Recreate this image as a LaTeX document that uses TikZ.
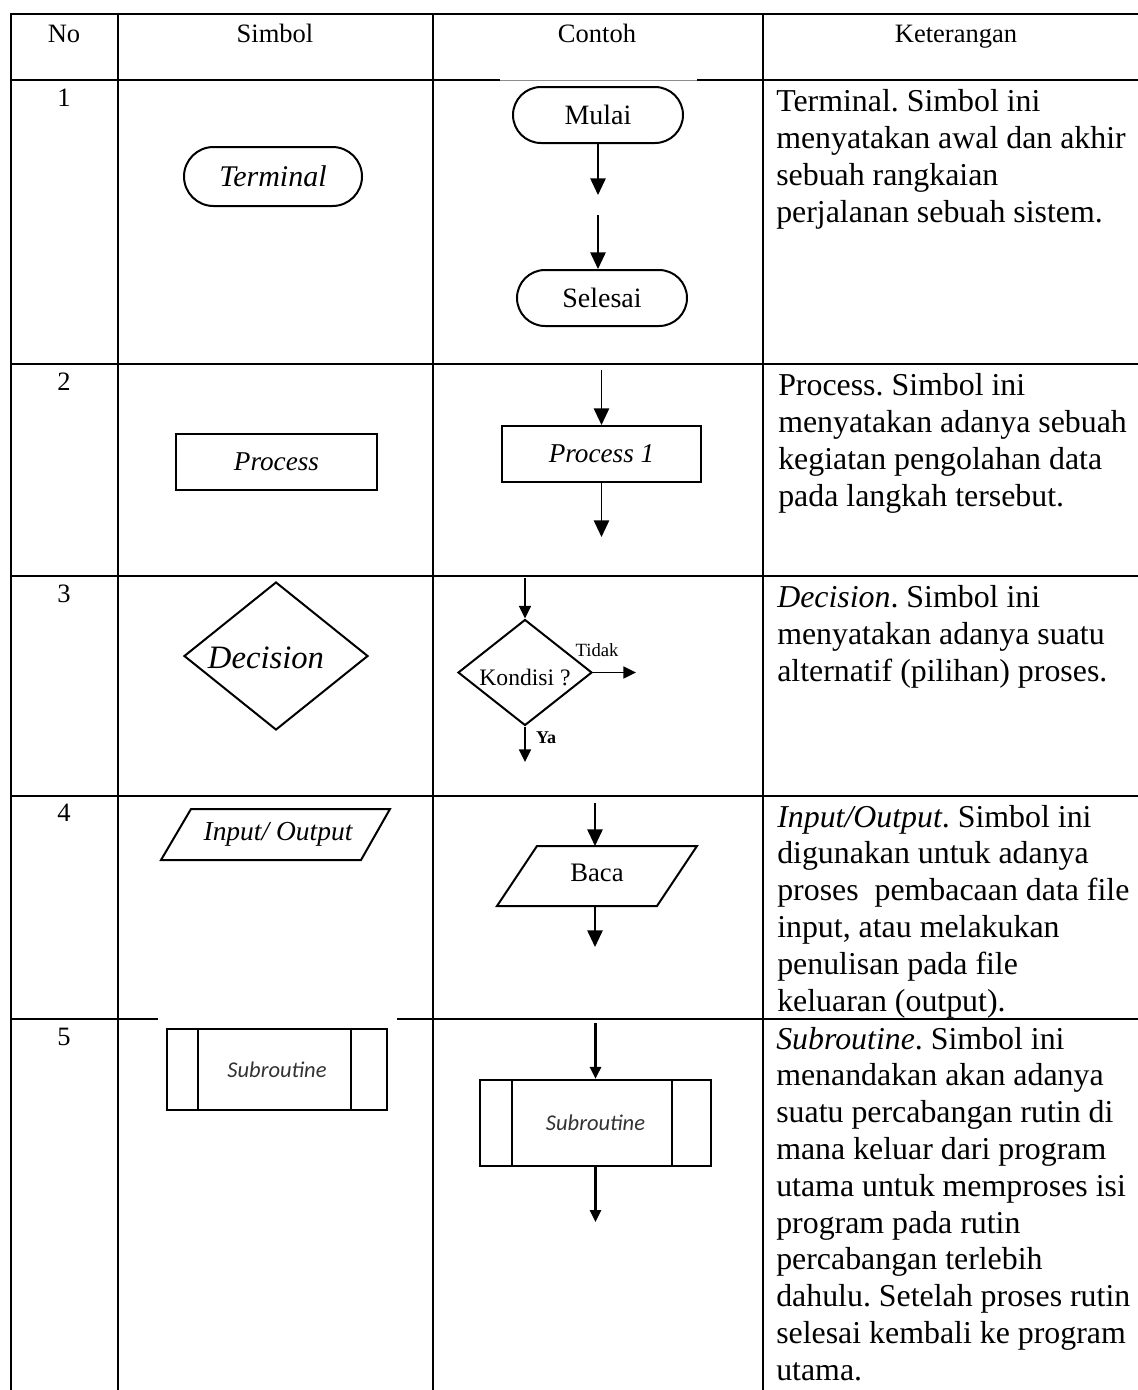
\documentclass[tikz,border=0pt]{standalone}
\usepackage{fontspec}
\setmainfont{Liberation Serif}
\newfontfamily\calibri{Carlito}
\usetikzlibrary{shapes.geometric,shapes.misc,arrows.meta}
\frenchspacing

\begin{document}
\begin{tikzpicture}[x=0.75pt,y=-0.75pt,
  grid/.style={line width=1.8pt},
  thinrule/.style={line width=0.4pt, black!45},
  shp/.style={draw, line width=1.5pt, inner sep=0pt},
  arr/.style={line width=1.3pt, -{Triangle[length=12.5pt,width=11.5pt]}},
  sarr/.style={line width=1.2pt, -{Triangle[length=9.5pt,width=9pt]}},
  tarr/.style={line width=1.6pt, -{Triangle[length=9pt,width=8.5pt]}},
  head/.style={font=\fontsize{19.9}{22}\selectfont, anchor=base, inner sep=0pt},
  desc/.style={font=\fontsize{23.9}{27}\selectfont, anchor=base west, inner sep=0pt},
  subfont/.style={text=black!80, font=\calibri\itshape\fontsize{16.9}{19}\selectfont},
]
\useasboundingbox (0,0) rectangle (1138,1390);
\fill[white] (0,0) rectangle (1138,1390);

% table rules
\draw[grid] (11,1390) -- (11,14) -- (1138,14);
\draw[grid] (118,14) -- (118,1390);
\draw[grid] (433,14) -- (433,1390);
\draw[grid] (763,14) -- (763,1390);
\draw[grid] (11,80) -- (500,80);
\draw[thinrule] (500,80) -- (697,80);
\draw[grid] (697,80) -- (1138,80);
\draw[grid] (11,364) -- (1138,364);
\draw[grid] (11,576) -- (1138,576);
\draw[grid] (11,796) -- (1138,796);
\draw[grid] (11,1019) -- (158,1019);
\draw[grid] (397,1019) -- (1138,1019);

% header
\node[head] (hNo) at (64,42) {No};
\node[head] (hSim) at (275,42) {Simbol};
\node[head] (hCon) at (597,42) {Contoh};
\node[head] (hKet) at (956,42) {Keterangan};

% row numbers
\node[head] (n1) at (64,106) {1};
\node[head] (n2) at (64,390) {2};
\node[head] (n3) at (64,602) {3};
\node[head] (n4) at (64,821) {4};
\node[head] (n5) at (64,1045) {5};

% 1: terminal
\node[shp, rounded rectangle, minimum width=133.5pt, minimum height=44.25pt,
  font=\fontsize{22.5}{24}\selectfont\itshape] (term) at (273,176.5) {Terminal};
\node[shp, rounded rectangle, minimum width=127.5pt, minimum height=42pt,
  font=\fontsize{21}{24}\selectfont] (mulai) at (598,115) {Mulai};
\node[shp, rounded rectangle, minimum width=127.5pt, minimum height=42pt,
  font=\fontsize{21}{24}\selectfont] (selesai) at (602,298) {Selesai};
\coordinate (m1) at (598,195);
\coordinate (s0) at (598,215);
\draw[arr] (mulai) -- (m1);
\draw[arr] (s0) -- (selesai.north -| s0);

% 2: process
\node[shp, minimum width=150.75pt, minimum height=42pt,
  font=\fontsize{20.4}{23}\selectfont\itshape] (proc) at (276.5,462) {Process};
\node[shp, minimum width=149.25pt, minimum height=42pt,
  font=\fontsize{20.4}{23}\selectfont\itshape] (proc1) at (601.5,454) {Process 1};
\coordinate (p0) at (601.5,370);
\coordinate (p1) at (601.5,537);
\draw[arr] (p0) -- (proc1);
\draw[arr] (proc1) -- (p1);

% 3: decision
\node[shp, diamond, minimum width=138pt, minimum height=111pt] (dec) at (276,656) {};
\node[font=\fontsize{24.5}{26}\selectfont\itshape] (dect) at (266,658) {Decision};
\node[shp, diamond, minimum width=100.5pt, minimum height=79.5pt] (kon) at (525,672.5) {};
\node[font=\fontsize{17.7}{20}\selectfont] (kont) at (525,677) {Kondisi ?};
\coordinate (k0) at (525,578);
\coordinate (k1) at (636,672.5);
\coordinate (k2) at (525,762);
\draw[sarr] (k0) -- (kon);
\draw[sarr] (kon) -- (k1);
\draw[sarr] (kon) -- (k2);
\node[font=\fontsize{14}{16}\selectfont] (tidak) at (597,650) {Tidak};
\node[font=\fontsize{13.5}{15}\selectfont\bfseries] (ya) at (546,738) {Ya};

% 4: input / output
\draw[line width=1.5pt, line join=miter] (191,809) -- (390,809) -- (361,860) -- (161,860) -- cycle;
\node[font=\fontsize{20.6}{23}\selectfont\itshape] (io) at (278,834) {Input/ Output};
\draw[line width=1.5pt, line join=miter] (537,846) -- (697,846) -- (657,906) -- (497,906) -- cycle;
\node[font=\fontsize{20}{23}\selectfont] (baca) at (597,873) {Baca};
\coordinate (b0) at (595,803);
\coordinate (bT) at (595,846);
\coordinate (bB) at (595,906);
\coordinate (b1) at (595,947);
\draw[arr] (b0) -- (bT);
\draw[arr] (bB) -- (b1);

% 5: subroutine
\node[shp, line width=1.8pt, minimum width=165pt, minimum height=60.75pt, subfont] (sub1) at (277,1069.5) {Subroutine};
\draw[line width=1.8pt] ([xshift=24pt]sub1.north west) -- ([xshift=24pt]sub1.south west);
\draw[line width=1.8pt] ([xshift=-27.75pt]sub1.north east) -- ([xshift=-27.75pt]sub1.south east);
\node[shp, line width=1.8pt, minimum width=173.25pt, minimum height=64.5pt, subfont] (sub2) at (595.5,1123) {Subroutine};
\draw[line width=1.8pt] ([xshift=24.75pt]sub2.north west) -- ([xshift=24.75pt]sub2.south west);
\draw[line width=1.8pt] ([xshift=-30pt]sub2.north east) -- ([xshift=-30pt]sub2.south east);
\coordinate (u0) at (595.5,1023);
\coordinate (u1) at (595.5,1222);
\draw[tarr] (u0) -- (sub2);
\draw[tarr] (sub2) -- (u1);

% descriptions
\foreach \t [count=\i from 0] in {Terminal. Simbol ini, menyatakan awal dan akhir, sebuah rangkaian, perjalanan sebuah sistem.}
  \node[desc] (da\i) at ({776},{111+37*\i}) {\t};
\foreach \t [count=\i from 0] in {Process. Simbol ini, menyatakan adanya sebuah, kegiatan pengolahan data, pada langkah tersebut.}
  \node[desc] (db\i) at ({778},{395+37*\i}) {\t};
\foreach \t [count=\i from 0] in {{\textit{Decision}. Simbol ini}, menyatakan adanya suatu, alternatif (pilihan) proses.}
  \node[desc] (dc\i) at ({777},{607+37*\i}) {\t};
\foreach \t [count=\i from 0] in {{\textit{Input/Output}. Simbol ini}, digunakan untuk adanya, {proses~~pembacaan data file}, {input, atau melakukan}, penulisan pada file, keluaran (output).}
  \node[desc] (dd\i) at ({777},{827+36.9*\i}) {\t};
\foreach \t [count=\i from 0] in {{\textit{Subroutine}. Simbol ini}, menandakan akan adanya, suatu percabangan rutin di, mana keluar dari program, utama untuk memproses isi, program pada rutin, percabangan terlebih, dahulu. Setelah proses rutin, selesai kembali ke program, utama.}
  \node[desc] (de\i) at ({776},{1049+36.8*\i}) {\t};
\end{tikzpicture}
\end{document}
